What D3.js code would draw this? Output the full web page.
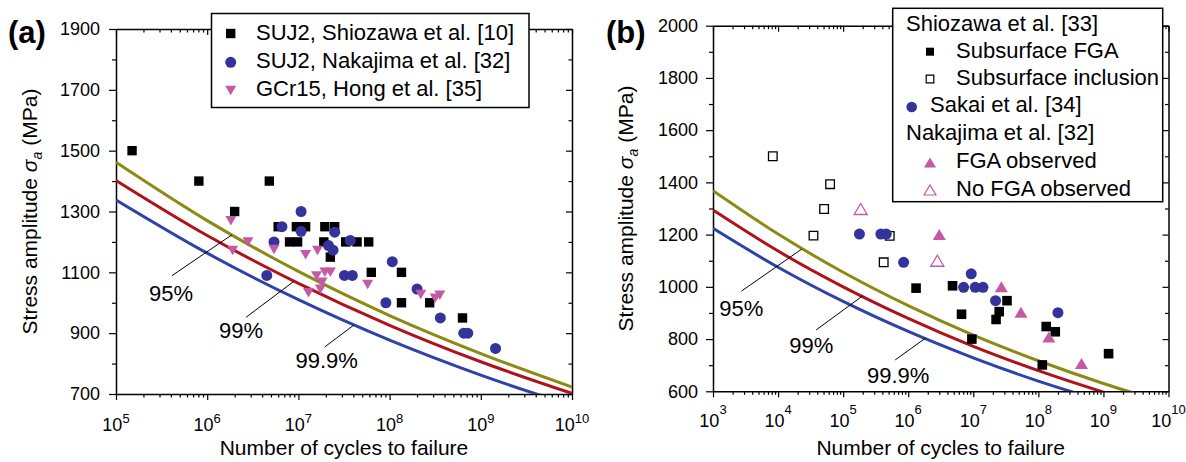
<!DOCTYPE html>
<html>
<head>
<meta charset="utf-8">
<script src="https://cdn.jsdelivr.net/npm/d3@7"></script>
<style>
  html, body { margin: 0; padding: 0; background: #fff; }
  svg { display: block; }
</style>
</head>
<body>
<svg id="chart" width="1186" height="462"></svg>
<script>
const FONT = '"Liberation Sans", Arial, Helvetica, sans-serif';

// ---------- panel (a): S-N data, [cycles to failure, stress amplitude (MPa)] ----------
const aShiozawa = [
  [1.5e5, 1500], [8.1e5, 1400], [2.0e6, 1300], [4.8e6, 1400],
  [6.0e6, 1250], [9.5e6, 1250], [1.2e7, 1250], [1.95e7, 1250], [2.5e7, 1250],
  [8.0e6, 1200], [9.8e6, 1200], [1.9e7, 1200], [3.3e7, 1200], [4.4e7, 1200], [5.9e7, 1200],
  [2.24e7, 1150], [6.3e7, 1100], [1.35e8, 1100], [1.35e8, 1000], [2.75e8, 1000], [6.3e8, 950]
];
const aNakajima = [
  [4.5e6, 1090], [5.4e6, 1200], [6.6e6, 1250], [1.07e7, 1300], [1.07e7, 1235],
  [2.5e7, 1232], [2.14e7, 1188], [2.4e7, 1173], [3.7e7, 1205], [3.2e7, 1090], [3.9e7, 1090],
  [1.07e8, 1135], [2.0e8, 1045], [9.1e7, 1000], [3.6e8, 950], [6.5e8, 900], [7.2e8, 900], [1.45e9, 850]
];
const aHong = [
  [1.82e6, 1270], [1.9e6, 1172], [2.8e6, 1200], [5.4e6, 1175], [1.2e7, 1158], [1.62e7, 1172],
  [1.58e7, 1088], [1.95e7, 1100], [2.24e7, 1100], [1.82e7, 1067], [1.29e7, 1033], [1.74e7, 1044],
  [5.75e7, 1060], [2.2e8, 1027], [3.16e8, 1015], [3.55e8, 1025]
];
// P-S-N curves, read at each decade
const aCurveN   = [1e5, 1e6, 1e7, 1e8, 1e9, 1e10];
const aCurve95  = [1462, 1270, 1103, 958, 833, 723];
const aCurve99  = [1402, 1221, 1064, 926, 806, 702];
const aCurve999 = [1338, 1163, 1010, 877, 762, 662];
const aDecades  = [5, 6, 7, 8, 9, 10];
const aYLabels  = [700, 900, 1100, 1300, 1500, 1700, 1900];

// ---------- panel (b) ----------
const bShiozawaFGA = [
  [1.32e6, 995], [4.8e6, 1004], [6.6e6, 895], [9.5e6, 800], [2.24e7, 875], [2.5e7, 905],
  [3.3e7, 947], [1.32e8, 848], [1.82e8, 828], [1.15e8, 701], [1.2e9, 744]
];
const bShiozawaInclusion = [
  [8.3e3, 1500], [6.3e4, 1393], [5.1e4, 1298], [3.5e4, 1196], [5.2e5, 1195], [4.2e5, 1094]
];
const bSakai = [
  [1.78e5, 1202], [3.8e5, 1202], [4.6e5, 1202], [8.5e5, 1094], [9.3e6, 1050],
  [7.1e6, 998], [1.07e7, 998], [1.41e7, 998], [2.2e7, 947], [2.0e8, 901]
];
const bNakajimaFGA   = [[3.0e6, 1200], [2.7e7, 1000], [5.4e7, 903], [1.45e8, 808], [4.6e8, 706]];
const bNakajimaNoFGA = [[1.86e5, 1298], [2.8e6, 1100]];
const bCurveN   = [1e3, 1e4, 1e5, 1e6, 1e7, 1e8, 1e9, 1e10];
const bCurve95  = [1368, 1202, 1056, 928, 815, 717, 630, 553];
const bCurve99  = [1294, 1137, 1000, 879, 772, 679, 597, 524];
const bCurve999 = [1224, 1075, 944, 829, 728, 639, 562, 493];
const bDecades  = [3, 4, 5, 6, 7, 8, 9, 10];
const bYLabels  = [600, 800, 1000, 1200, 1400, 1600, 1800, 2000];

// probability labels: text anchor (N,S) and leader line from (N,S) to (N,S) on the curve
const aNotes = [
  { text: '95%',   at: [2.3e5, 1006], from: [4.1e5, 1089], to: [1.86e6, 1223] },
  { text: '99%',   at: [1.35e6, 884], from: [2.66e6, 952], to: [8.8e6, 1069] },
  { text: '99.9%', at: [9.3e6, 786],  from: [1.95e7, 855], to: [4.07e7, 927] }
];
const bNotes = [
  { text: '95%',   at: [1.25e3, 888], from: [2.75e3, 984], to: [2.32e4, 1145] },
  { text: '99%',   at: [1.49e4, 745], from: [3.85e4, 835], to: [2.01e5, 966] },
  { text: '99.9%', at: [2.32e5, 631], from: [6.3e5, 720],  to: [1.83e6, 803] }
];

const COL = {
  black: '#000000',
  blue: '#33339b',
  pink: '#c25aa6',
  c95: '#8c8a12',
  c99: '#b0121a',
  c999: '#2f42a8'
};

const shape = {
  square: s => `M${-s / 2},${-s / 2}h${s}v${s}h${-s}Z`,
  circle: r => d3.symbol(d3.symbolCircle, Math.PI * r * r)(),
  triDown: (w, h) => `M${-w / 2},${-h / 2}L${w / 2},${-h / 2}L0,${h / 2}Z`,
  triUp: (w, h) => `M${-w / 2},${h / 2}L${w / 2},${h / 2}L0,${-h / 2}Z`
};

const svg = d3.select('#chart').style('font-family', FONT);

function drawPanel(p) {
  const lastDec = p.decades[p.decades.length - 1];
  const x = d3.scaleLog().domain([10 ** p.decades[0], 10 ** lastDec]).range([p.left, p.right]);
  const y = d3.scaleLinear().domain([p.yMin, p.yMax]).range([p.bottom, p.top]);
  const g = svg.append('g');

  const xTicks = [];
  for (let e = p.decades[0]; e < lastDec; e++) for (let m = 1; m < 10; m++) xTicks.push(m * 10 ** e);
  xTicks.push(10 ** lastDec);
  const majorX = v => Math.abs(Math.log10(v) - Math.round(Math.log10(v))) < 1e-6;
  const yTicks = d3.range(p.yMin, p.yMax + 1, 100);
  const majorY = v => p.yLabels.includes(v);

  const styleAxis = sel => {
    sel.attr('font-family', FONT).attr('font-size', 18);
    sel.select('.domain').attr('stroke', '#000').attr('stroke-width', 1.5);
    sel.selectAll('.tick line').attr('stroke', '#000').attr('stroke-width', 1.2);
    sel.selectAll('.tick text').attr('fill', '#000');
  };

  // bottom axis (ticks outward)
  g.append('g').attr('transform', `translate(0,${p.bottom})`)
    .call(d3.axisBottom(x).tickValues(xTicks).tickSizeOuter(0).tickFormat(''))
    .call(styleAxis)
    .call(s => s.selectAll('.tick line').attr('y2', d => majorX(d) ? 6 : 3.5));
  // top axis (ticks inward)
  g.append('g').attr('transform', `translate(0,${p.top})`)
    .call(d3.axisTop(x).tickValues(xTicks).tickSizeOuter(0).tickFormat(''))
    .call(styleAxis)
    .call(s => s.selectAll('.tick line').attr('y2', d => majorX(d) ? 6 : 3.5));
  // left axis (ticks outward, labels on major ticks)
  g.append('g').attr('transform', `translate(${p.left},0)`)
    .call(d3.axisLeft(y).tickValues(yTicks).tickSize(7).tickPadding(p.yPad).tickSizeOuter(0)
      .tickFormat(d => majorY(d) ? d : ''))
    .call(styleAxis)
    .call(s => s.selectAll('.tick line').attr('x2', d => majorY(d) ? -7 : -4));
  // right axis (ticks inward)
  g.append('g').attr('transform', `translate(${p.right},0)`)
    .call(d3.axisRight(y).tickValues(yTicks).tickSizeOuter(0).tickFormat(''))
    .call(styleAxis)
    .call(s => s.selectAll('.tick line').attr('x2', d => majorY(d) ? -6 : -3.5));

  // decade labels 10^n
  g.selectAll('text.xdec').data(p.decades).join('text')
    .attr('class', 'xdec')
    .attr('x', d => x(10 ** d)).attr('y', p.bottom + p.xLabDy)
    .attr('text-anchor', 'middle').attr('font-size', 18).attr('fill', '#000')
    .call(t => {
      t.append('tspan').text('10');
      t.append('tspan').attr('font-size', 13).attr('dy', -p.supRaise).text(d => d);
    });

  // axis titles
  g.append('text')
    .attr('x', (p.left + p.right) / 2).attr('y', 455)
    .attr('text-anchor', 'middle').attr('font-size', 21)
    .text('Number of cycles to failure');
  const yt = g.append('text')
    .attr('transform', `translate(${p.yTitleX},${(p.top + p.bottom) / 2}) rotate(-90)`)
    .attr('text-anchor', 'middle').attr('font-size', 21);
  yt.append('tspan').text('Stress amplitude ');
  yt.append('tspan').attr('font-style', 'italic').text('σ');
  yt.append('tspan').attr('font-style', 'italic').attr('font-size', 14).attr('dy', 5).text('a');
  yt.append('tspan').attr('dy', -5).attr('dx', 6).text('(MPa)');

  // panel letter
  g.append('text').attr('x', p.tagX).attr('y', 43)
    .attr('font-size', 31).attr('font-weight', 'bold').text(p.tag);

  // P-S-N curves, clipped to the plot frame
  const clipId = 'clip-' + p.tag.replace(/\W/g, '');
  svg.append('clipPath').attr('id', clipId)
    .append('rect').attr('x', p.left).attr('y', p.top)
    .attr('width', p.right - p.left).attr('height', p.bottom - p.top);
  const line = d3.line().x(d => x(d[0])).y(d => y(d[1])).curve(d3.curveMonotoneX);
  const curves = g.append('g').attr('clip-path', `url(#${clipId})`);
  p.curves.forEach(c => {
    curves.append('path')
      .attr('d', line(p.curveN.map((n, i) => [n, c.values[i]])))
      .attr('fill', 'none').attr('stroke', c.color).attr('stroke-width', 3);
  });

  // leader lines and percent labels
  p.notes.forEach(n => {
    g.append('line')
      .attr('x1', x(n.from[0])).attr('y1', y(n.from[1]))
      .attr('x2', x(n.to[0])).attr('y2', y(n.to[1]))
      .attr('stroke', '#000').attr('stroke-width', 1);
    g.append('text').attr('x', x(n.at[0])).attr('y', y(n.at[1]))
      .attr('font-size', 22).text(n.text);
  });

  // data markers
  p.series.forEach(s => {
    g.append('g').selectAll('path').data(s.data).join('path')
      .attr('transform', d => `translate(${x(d[0])},${y(d[1])})`)
      .attr('d', s.path)
      .attr('fill', s.fill).attr('stroke', s.stroke || 'none')
      .attr('stroke-width', s.strokeWidth || 0);
  });

  // legend
  const L = p.legend;
  const lg = g.append('g');
  lg.append('rect').attr('x', L.x).attr('y', L.y).attr('width', L.w).attr('height', L.h)
    .attr('fill', '#fff').attr('stroke', '#000').attr('stroke-width', 1.5);
  L.rows.forEach(r => {
    if (r.path) {
      lg.append('path').attr('transform', `translate(${r.sx},${r.sy})`).attr('d', r.path)
        .attr('fill', r.fill).attr('stroke', r.stroke || 'none').attr('stroke-width', r.strokeWidth || 0);
    }
    lg.append('text').attr('x', r.tx).attr('y', r.ty).attr('font-size', 22).text(r.text);
  });
}

// ---------- panel (a) ----------
const aSq = shape.square(9.4), aCi = shape.circle(5.5), aTri = shape.triDown(11, 9.5);
drawPanel({
  tag: '(a)', tagX: 8,
  left: 116, right: 572, top: 29, bottom: 394,
  yMin: 700, yMax: 1900, yLabels: aYLabels, yPad: 9,
  decades: aDecades, xLabDy: 37, supRaise: 8,
  yTitleX: 37,
  curveN: aCurveN,
  curves: [
    { values: aCurve999, color: COL.c999 },
    { values: aCurve99, color: COL.c99 },
    { values: aCurve95, color: COL.c95 }
  ],
  notes: aNotes,
  series: [
    { data: aShiozawa, path: aSq, fill: COL.black },
    { data: aNakajima, path: aCi, fill: COL.blue },
    { data: aHong, path: aTri, fill: COL.pink }
  ],
  legend: {
    x: 211.5, y: 13.5, w: 317.5, h: 94,
    rows: [
      { path: aSq, fill: COL.black, sx: 230.7, sy: 33.5, tx: 256, ty: 40, text: 'SUJ2, Shiozawa et al. [10]' },
      { path: aCi, fill: COL.blue, sx: 230.7, sy: 62.3, tx: 256, ty: 68, text: 'SUJ2, Nakajima et al. [32]' },
      { path: aTri, fill: COL.pink, sx: 230.7, sy: 90.5, tx: 256, ty: 96, text: 'GCr15, Hong et al. [35]' }
    ]
  }
});

// ---------- panel (b) ----------
const bSq = shape.square(9.6), bOpenSq = shape.square(8.6), bCi = shape.circle(5.5);
const bTri = shape.triUp(13, 11);
drawPanel({
  tag: '(b)', tagX: 606,
  left: 713, right: 1168.5, top: 25.7, bottom: 391.3,
  yMin: 600, yMax: 2000, yLabels: bYLabels, yPad: 8,
  decades: bDecades, xLabDy: 36, supRaise: 13,
  yTitleX: 633,
  curveN: bCurveN,
  curves: [
    { values: bCurve999, color: COL.c999 },
    { values: bCurve99, color: COL.c99 },
    { values: bCurve95, color: COL.c95 }
  ],
  notes: bNotes,
  series: [
    { data: bShiozawaInclusion, path: bOpenSq, fill: 'none', stroke: COL.black, strokeWidth: 1.3 },
    { data: bShiozawaFGA, path: bSq, fill: COL.black },
    { data: bSakai, path: bCi, fill: COL.blue },
    { data: bNakajimaFGA, path: bTri, fill: COL.pink },
    { data: bNakajimaNoFGA, path: bTri, fill: 'none', stroke: COL.pink, strokeWidth: 1.3 }
  ],
  legend: {
    x: 892.7, y: 8.3, w: 270, h: 193.4,
    rows: [
      { tx: 906, ty: 30.5, text: 'Shiozawa et al. [33]' },
      { path: shape.square(8), fill: COL.black, sx: 930, sy: 51.7, tx: 956, ty: 57.5, text: 'Subsurface FGA' },
      { path: shape.square(7.6), fill: 'none', stroke: COL.black, strokeWidth: 1.2, sx: 930, sy: 79, tx: 956, ty: 84.5, text: 'Subsurface inclusion' },
      { path: shape.circle(5.3), fill: COL.blue, sx: 911.7, sy: 107, tx: 930, ty: 112.3, text: 'Sakai et al. [34]' },
      { tx: 906, ty: 140, text: 'Nakajima et al. [32]' },
      { path: shape.triUp(12, 10), fill: COL.pink, sx: 930, sy: 162.5, tx: 956, ty: 168, text: 'FGA observed' },
      { path: shape.triUp(12, 10), fill: 'none', stroke: COL.pink, strokeWidth: 1.2, sx: 930, sy: 190, tx: 956, ty: 195.7, text: 'No FGA observed' }
    ]
  }
});
</script>
</body>
</html>
